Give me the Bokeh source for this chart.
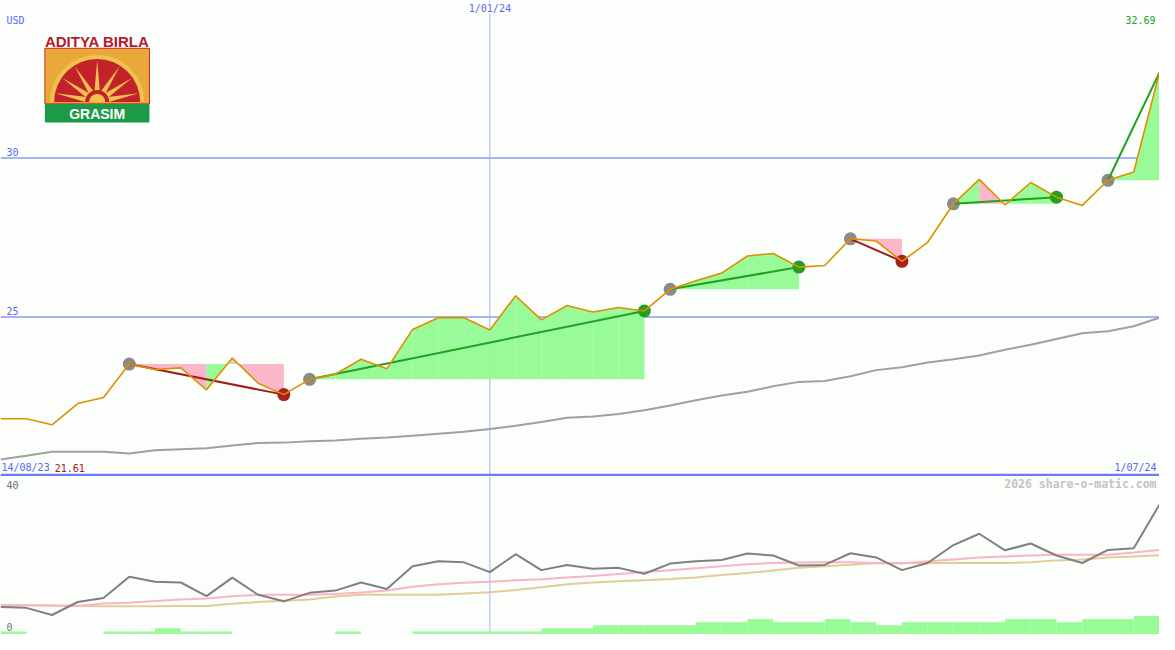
import math
import pandas as pd
from bokeh.plotting import figure
from bokeh.layouts import column
from bokeh.models import Range1d, Span, Label
from bokeh.embed import file_html
from bokeh.resources import INLINE

# ---------------- data ----------------
dates = pd.date_range("2023-08-21", "2024-07-01", freq="7D")  # weekly, 46 points

price = [21.80, 21.80, 21.61, 22.28, 22.47, 23.52, 23.35, 23.40, 22.71, 23.71,
         22.92, 22.56, 23.04, 23.20, 23.67, 23.37, 24.61, 24.98, 24.98, 24.59,
         25.67, 24.91, 25.36, 25.16, 25.30, 25.19, 25.87, 26.14, 26.38, 26.92,
         27.00, 26.57, 26.62, 27.46, 27.39, 26.75, 27.35, 28.56, 29.33, 28.53,
         29.23, 28.77, 28.51, 29.30, 29.56, 32.69]

ma_long = [20.52, 20.64, 20.76, 20.76, 20.76, 20.71, 20.81, 20.84, 20.87, 20.96,
           21.04, 21.05, 21.09, 21.12, 21.17, 21.21, 21.27, 21.33, 21.39, 21.48,
           21.58, 21.70, 21.83, 21.87, 21.95, 22.07, 22.22, 22.38, 22.53, 22.65,
           22.82, 22.96, 22.99, 23.14, 23.33, 23.42, 23.57, 23.67, 23.79, 23.97,
           24.13, 24.31, 24.49, 24.55, 24.71, 24.98]

osc = [7.08, 6.83, 5.00, 8.33, 9.33, 14.83, 13.50, 13.33, 9.83, 14.58,
       10.18, 8.50, 10.68, 11.25, 13.33, 11.68, 17.50, 18.75, 18.50, 16.00,
       20.58, 16.50, 17.83, 16.83, 17.08, 15.58, 18.18, 18.75, 19.08, 20.75,
       20.25, 17.68, 17.83, 20.83, 19.75, 16.50, 18.33, 22.93, 25.83, 21.58,
       23.33, 20.25, 18.33, 21.68, 22.08, 33.33]

osc_fast = [7.50, 7.50, 7.38, 7.33, 7.93, 8.13, 8.58, 9.00, 9.25, 9.83,
            10.18, 10.18, 10.18, 10.38, 10.75, 11.25, 12.25, 12.88, 13.25, 13.50,
            13.88, 14.18, 14.58, 15.00, 15.50, 16.00, 16.50, 17.00, 17.50, 18.00,
            18.33, 18.43, 18.50, 18.50, 18.25, 18.18, 18.75, 19.25, 19.75, 20.00,
            20.25, 20.43, 20.43, 20.43, 21.00, 21.68]

osc_slow = [7.50, 7.50, 7.50, 7.38, 7.25, 7.25, 7.25, 7.33, 7.33, 7.88,
            8.33, 8.68, 9.00, 9.75, 10.18, 10.18, 10.18, 10.18, 10.50, 10.83,
            11.40, 12.10, 12.90, 13.30, 13.63, 13.93, 14.25, 14.63, 15.25, 15.75,
            16.38, 17.08, 17.50, 17.88, 18.33, 18.33, 18.33, 18.33, 18.33, 18.33,
            18.50, 19.00, 19.25, 19.75, 20.00, 20.33]

# weekly volume (relative units), one bar per week interval
volume = [1, 0, 0, 0, 1, 1, 2, 1, 1, 0,
          0, 0, 0, 1, 0, 0, 1, 1, 1, 1,
          1, 2, 2, 3, 3, 3, 3, 4, 4, 5,
          4, 4, 5, 4, 3, 4, 4, 4, 4, 5,
          5, 4, 5, 5, 6]

# signals: (start index, end index, closed?)
sig_start = [5, 12, 26, 33, 37, 43]
sig_end = [11, 25, 31, 35, 41, 45]
sig_closed = [True, True, True, True, True, False]

grid_levels = [25, 30]
mark_date = pd.Timestamp("2024-01-01")
currency = "USD"

# ---------------- styles ----------------
BG = "#fbfefb"
BLUE_TXT = "#5a68f0"
GRID = "#a6b2f4"
ORANGE = "#de9000"
GREEN_FILL = "#98fb98"
PINK_FILL = "#fbb6c9"
DK_RED = "#a21c1c"
DK_GREEN = "#22a022"
MONO = "DejaVu Sans Mono"

xs = [d.timestamp() * 1000.0 for d in dates]
xr = Range1d(xs[0], xs[-1])

W = 1159
H_TOP = 476
H_BOT = 158


def mkfig(h, yr):
    f = figure(width=W, height=h, x_range=xr, y_range=yr, output_backend="svg",
               toolbar_location=None, x_axis_type=None, y_axis_type=None,
               min_border=0, background_fill_color=BG, border_fill_color=BG,
               outline_line_color=None)
    f.grid.visible = False
    return f


# reference-pixel helpers for decorative placement only
def px2x(px):
    return xs[0] + px / 1175.0 * (xs[-1] - xs[0])


def py2y(py):
    return 30 - (py - 161.5) / 32.6


def py2v(py):
    return (650 - py) / 4.0


p = mkfig(H_TOP, Range1d(py2y(488), py2y(0)))

for g in grid_levels:
    p.add_layout(Span(location=g, dimension="width", line_color=GRID,
                      line_width=2, level="underlay"))
p.add_layout(Span(location=mark_date.timestamp() * 1000, dimension="height",
                  line_color=GRID, line_width=1, level="underlay"))

# signal fills
fxs, fys, fcs = [], [], []
for s, e in zip(sig_start, sig_end):
    lvl = price[s]
    for k in range(s, e):
        fxs.append([xs[k], xs[k], xs[k + 1], xs[k + 1]])
        fys.append([lvl, price[k], price[k + 1], lvl])
        fcs.append(GREEN_FILL if price[k + 1] >= lvl else PINK_FILL)
p.patches(fxs, fys, fill_color=fcs, line_color=None)

# long moving average
p.line(xs, ma_long, line_color="#a0a0a0", line_width=2)

# signal markers and trend lines
for s, e, closed in zip(sig_start, sig_end, sig_closed):
    up = price[e] >= price[s]
    col = DK_GREEN if up else DK_RED
    p.scatter([xs[s]], [price[s]], size=13, fill_color="#8a8a8a",
              line_color=None)
    if closed:
        p.scatter([xs[e]], [price[e]], size=13,
                  fill_color=(DK_GREEN if up else "#a82020"), line_color=None)
    p.line([xs[s], xs[e]], [price[s], price[e]], line_color=col, line_width=2)

p.line(xs, price, line_color=ORANGE, line_width=1.6)

# texts
p.add_layout(Label(x=px2x(6), y=py2y(20), text=currency, text_font=MONO,
                   text_font_size="10px", text_color=BLUE_TXT,
                   text_baseline="middle"))
for g in grid_levels:
    p.add_layout(Label(x=px2x(6), y=g, y_offset=2, text=str(g), text_font=MONO,
                       text_font_size="10px", text_color=BLUE_TXT,
                       text_baseline="bottom"))
p.add_layout(Label(x=mark_date.timestamp() * 1000, y=py2y(8),
                   text=f"{mark_date.day}/{mark_date:%m/%y}", text_font=MONO,
                   text_font_size="10px", text_color=BLUE_TXT,
                   text_align="center", text_baseline="middle",
                   background_fill_color=BG))
p.add_layout(Label(x=px2x(1171), y=py2y(20), text=f"{max(price):.2f}",
                   text_font=MONO, text_font_size="10px", text_color=DK_GREEN,
                   text_align="right", text_baseline="middle"))
p.add_layout(Label(x=px2x(1), y=py2y(479),
                   text=f"{dates[0] - pd.Timedelta(days=7):%d/%m/%y}",
                   text_font=MONO, text_font_size="10px", text_color=BLUE_TXT,
                   text_baseline="middle"))
p.add_layout(Label(x=px2x(55), y=py2y(479), text=f"{min(price):.2f}",
                   text_font=MONO, text_font_size="10px", text_color=DK_RED,
                   text_baseline="middle"))
p.add_layout(Label(x=px2x(1172), y=py2y(479),
                   text=f"{dates[-1].day}/{dates[-1]:%m/%y}", text_font=MONO,
                   text_font_size="10px", text_color=BLUE_TXT,
                   text_align="right", text_baseline="middle"))
p.add_layout(Span(location=py2y(486.5), dimension="width",
                  line_color="#6b7cf0", line_width=2.5))

# ---- logo (decoration) ----
p.quad(left=px2x(45), right=px2x(151), top=py2y(49), bottom=py2y(106),
       fill_color="#e8a93a", line_color="#c8262a", line_width=1)
cx, cy = px2x(98), py2y(104)
p.wedge(x=[cx], y=[cy], radius=47, radius_units="screen", start_angle=0,
        end_angle=math.pi, fill_color="#f2c24e", line_color=None)
p.wedge(x=[cx], y=[cy], radius=43, radius_units="screen", start_angle=0,
        end_angle=math.pi, fill_color="#c4222a", line_color=None)
rx, ry = [], []
for a_deg in [12, 35, 58, 90, 122, 145, 168]:
    a = math.radians(a_deg)
    tip = (98 + 43 * math.cos(a), 104 - 43 * math.sin(a))
    b1 = (98 + 12 * math.cos(a - 0.22), 104 - 12 * math.sin(a - 0.22))
    b2 = (98 + 12 * math.cos(a + 0.22), 104 - 12 * math.sin(a + 0.22))
    rx.append([px2x(b1[0]), px2x(tip[0]), px2x(b2[0])])
    ry.append([py2y(b1[1]), py2y(tip[1]), py2y(b2[1])])
p.patches(rx, ry, fill_color="#f2c24e", line_color=None)
p.wedge(x=[cx], y=[cy], radius=12, radius_units="screen", start_angle=0,
        end_angle=math.pi, fill_color="#c4222a", line_color=None)
p.wedge(x=[cx], y=[cy], radius=8, radius_units="screen", start_angle=0,
        end_angle=math.pi, fill_color="#f2c24e", line_color=None)
p.quad(left=px2x(45), right=px2x(151), top=py2y(106), bottom=py2y(125),
       fill_color="#1d9a48", line_color=None)
p.add_layout(Label(x=px2x(98), y=py2y(42), text="ADITYA BIRLA",
                   text_font="Liberation Sans", text_font_style="bold",
                   text_font_size="15px", text_color="#b3182c",
                   text_align="center", text_baseline="middle"))
p.add_layout(Label(x=px2x(98), y=py2y(116), text="GRASIM",
                   text_font="Liberation Sans", text_font_style="bold",
                   text_font_size="14px", text_color="white",
                   text_align="center", text_baseline="middle"))

# ---------------- lower panel ----------------
q = mkfig(H_BOT, Range1d(0, py2v(488)))
q.extra_y_ranges = {"vol": Range1d(0, 51.4)}
q.add_layout(Span(location=mark_date.timestamp() * 1000, dimension="height",
                  line_color=GRID, line_width=1, level="underlay"))
q.quad(left=xs[:-1], right=xs[1:], bottom=0, top=volume, y_range_name="vol",
       fill_color=GREEN_FILL, line_color=None)
q.line(xs, osc_slow, line_color="#e4cc98", line_width=2)
q.line(xs, osc_fast, line_color="#fbb4c6", line_width=2)
q.line(xs, osc, line_color="#808080", line_width=2)

q.add_layout(Label(x=px2x(6), y=py2v(497), text="40", text_font=MONO,
                   text_font_size="10px", text_color="#707070",
                   text_baseline="middle"))
q.add_layout(Label(x=px2x(6), y=py2v(642), text="0", text_font=MONO,
                   text_font_size="10px", text_color="#707070",
                   text_baseline="middle"))
q.add_layout(Label(x=px2x(1172), y=py2v(496), text="2026 share-o-matic.com",
                   text_font=MONO, text_font_style="bold",
                   text_font_size="11.5px", text_color="#c4c4c4",
                   text_align="right", text_baseline="middle"))

layout = column(p, q, spacing=0)
open("out.html", "w").write(file_html(layout, INLINE))
